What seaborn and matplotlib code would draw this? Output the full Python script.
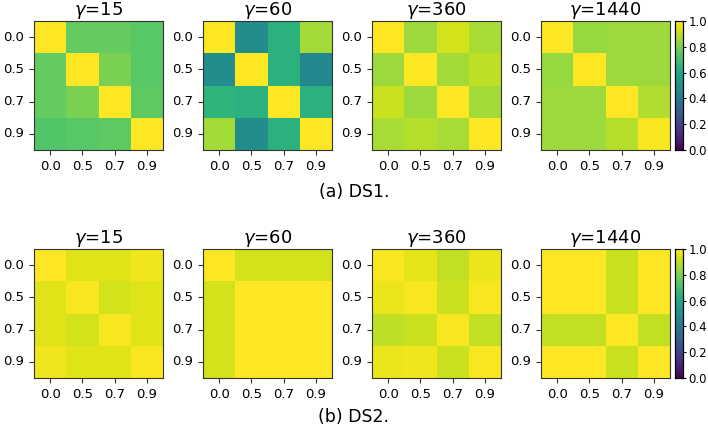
import seaborn as sns
import matplotlib.pyplot as plt
import numpy as np

labels = ['0.0', '0.5', '0.7', '0.9']
gammas = ['15', '60', '360', '1440']

# DS1 similarity matrices
ds1_g15 = [[1.00, 0.76, 0.76, 0.74],
           [0.76, 1.00, 0.80, 0.74],
           [0.76, 0.80, 1.00, 0.75],
           [0.73, 0.74, 0.75, 1.00]]
ds1_g60 = [[1.00, 0.49, 0.64, 0.86],
           [0.49, 1.00, 0.64, 0.46],
           [0.65, 0.64, 1.00, 0.64],
           [0.86, 0.49, 0.64, 1.00]]
ds1_g360 = [[1.00, 0.85, 0.93, 0.87],
            [0.85, 1.00, 0.86, 0.90],
            [0.92, 0.85, 1.00, 0.86],
            [0.87, 0.89, 0.87, 1.00]]
ds1_g1440 = [[1.00, 0.84, 0.85, 0.85],
             [0.84, 1.00, 0.85, 0.85],
             [0.85, 0.85, 1.00, 0.88],
             [0.85, 0.85, 0.89, 0.99]]

# DS2 similarity matrices
ds2_g15 = [[1.00, 0.95, 0.95, 0.98],
           [0.95, 0.99, 0.93, 0.95],
           [0.95, 0.93, 0.99, 0.95],
           [0.98, 0.95, 0.95, 0.99]]
ds2_g60 = [[1.00, 0.93, 0.93, 0.93],
           [0.93, 1.00, 1.00, 1.00],
           [0.93, 1.00, 1.00, 1.00],
           [0.93, 1.00, 1.00, 1.00]]
ds2_g360 = [[0.99, 0.96, 0.91, 0.97],
            [0.97, 0.99, 0.92, 0.99],
            [0.90, 0.92, 0.99, 0.91],
            [0.97, 0.98, 0.92, 0.99]]
ds2_g1440 = [[1.00, 1.00, 0.92, 1.00],
             [1.00, 1.00, 0.92, 1.00],
             [0.91, 0.91, 1.00, 0.91],
             [1.00, 1.00, 0.92, 1.00]]

rows = [[ds1_g15, ds1_g60, ds1_g360, ds1_g1440],
        [ds2_g15, ds2_g60, ds2_g360, ds2_g1440]]
captions = ['(a) DS1.', '(b) DS2.']
caption_y = [192, 417]

W, H = 708, 428
fig = plt.figure(figsize=(W / 100, H / 100), dpi=100)

def px_axes(x0, y0, x1, y1):
    return fig.add_axes([x0 / W, 1 - y1 / H, (x1 - x0) / W, (y1 - y0) / H])

lefts = [34, 203, 372, 541]
tops = [21, 249]
size = 129

for r, mats in enumerate(rows):
    y0 = tops[r]
    for c, m in enumerate(mats):
        ax = px_axes(lefts[c], y0, lefts[c] + size, y0 + size)
        last = c == 3
        cax = px_axes(675, y0, 683, y0 + size) if last else None
        sns.heatmap(np.array(m), ax=ax, cmap='viridis', vmin=0, vmax=1,
                    square=False, cbar=last, cbar_ax=cax,
                    xticklabels=labels, yticklabels=labels)
        for s in ax.spines.values():
            s.set_visible(True)
            s.set_color('#333333')
            s.set_linewidth(0.8)
        ax.tick_params(labelsize=9.5, length=3.5, color='#333333')
        ax.set_yticklabels(labels, rotation=0)
        ax.set_xticklabels(labels, rotation=0)
        ax.set_title(r'$\gamma$=' + gammas[c], fontsize=13, pad=3)
        if last:
            cax.tick_params(labelsize=8.5, length=2.5, pad=1.5)
            cax.set_yticks([0, 0.2, 0.4, 0.6, 0.8, 1.0])
            cax.set_yticklabels(['0.0', '0.2', '0.4', '0.6', '0.8', '1.0'])
            for s in cax.spines.values():
                s.set_visible(True)
                s.set_linewidth(0.8)
    fig.text(354 / W, 1 - caption_y[r] / H, captions[r],
             ha='center', va='center', fontsize=12.5)

fig.savefig('out.png', dpi=100, facecolor='white')
